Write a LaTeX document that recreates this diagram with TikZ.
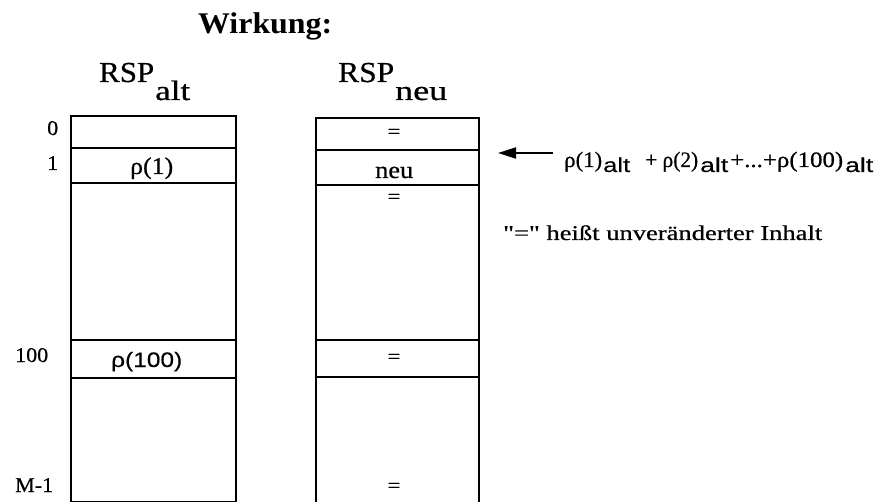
\documentclass[tikz,border=0pt]{standalone}
\usepackage{graphicx}
\usepackage{fontspec}
\setmainfont{Liberation Serif}[UprightFeatures={FakeBold=0.6}]
\newfontfamily\qfont{Liberation Serif}[Ligatures=TeXOff,FakeBold=0.6]
\newfontfamily\sfarial{Liberation Sans}[FakeBold=0.3]
\usetikzlibrary{arrows.meta}
\newcommand{\fw}[2]{\resizebox{#1}{\height}{#2}}
\newcommand{\fs}[1]{\fontsize{#1}{#1}\selectfont}
\newcommand{\dq}{{\qfont\symbol{34}}}
\begin{document}
\begin{tikzpicture}[x=1pt,y=-1pt,
  cell/.style={draw,line width=2pt,inner sep=0pt,anchor=north west},
  lbl/.style={inner sep=0pt,anchor=base west},
  ctr/.style={inner sep=0pt,anchor=base}]
\useasboundingbox (0,0) rectangle (874,502);
% title
\node[lbl] (title) at (198,34) {\fw{134pt}{\fs{30}\bfseries Wirkung:}};
\node[lbl] (rspalt) at (99,82)
  {\fw{55pt}{\fs{29}RSP}\hspace{1pt}\raisebox{-18pt}{\fw{35pt}{\fs{28}alt}}};
\node[lbl] (rspneu) at (338,82)
  {\fw{56pt}{\fs{29}RSP}\hspace{1pt}\raisebox{-18pt}{\fw{52pt}{\fs{28}neu}}};
% left column
\node[cell,minimum width=165pt,minimum height=32pt] (a0) at (70,115) {};
\node[cell,minimum width=165pt,minimum height=35pt] (a1) at (70,147) {};
\node[cell,minimum width=165pt,minimum height=157pt] (a2) at (70,182) {};
\node[cell,minimum width=165pt,minimum height=38pt] (a3) at (70,339) {};
\node[cell,minimum width=165pt,minimum height=124pt] (a4) at (70,377) {};
% right column
\node[cell,minimum width=163pt,minimum height=32pt] (b0) at (315,117) {};
\node[cell,minimum width=163pt,minimum height=35pt] (b1) at (315,149) {};
\node[cell,minimum width=163pt,minimum height=155pt] (b2) at (315,184) {};
\node[cell,minimum width=163pt,minimum height=37pt] (b3) at (315,339) {};
\node[cell,minimum width=163pt,minimum height=126pt] (b4) at (315,376) {};
% row labels
\node[lbl] (l0) at (47,135) {\fw{11pt}{\fs{21}0}};
\node[lbl] (l1) at (47,170) {\fw{11pt}{\fs{21}1}};
\node[lbl] (l100) at (15,362) {\fw{33pt}{\fs{21}100}};
\node[lbl] (lm) at (15,492) {\fw{38pt}{\fs{21}M-1}};
% cell contents
\node[lbl] (r1) at (130,174) {\fw{43pt}{\fs{24}ρ(1)}};
\node[lbl] (r100) at (111,367) {\fw{71pt}{\fs{21}\sfarial ρ(100)}};
\node[lbl] (n1) at (375,178) {\fw{38pt}{\fs{24}neu}};
\node[ctr] (e0) at (394,138) {\fw{13pt}{\fs{20}=}};
\node[ctr] (e2) at (394,203) {\fw{13pt}{\fs{20}=}};
\node[ctr] (e3) at (394,363) {\fw{13pt}{\fs{20}=}};
\node[ctr] (e4) at (394,492) {\fw{13pt}{\fs{20}=}};
% formula and arrow
\node[lbl] (form) at (564,167)
  {\fw{38pt}{\fs{22}ρ(1)}\hspace{1pt}%
   \raisebox{-5pt}{\fw{27pt}{\fs{20}\sfarial alt}}\hspace{15pt}%
   \fw{53pt}{\fs{22}+ ρ(2)}\hspace{2pt}%
   \raisebox{-5pt}{\fw{28pt}{\fs{20}\sfarial alt}}\hspace{2pt}%
   \fw{113pt}{\fs{22}+...+ρ(100)}\hspace{2pt}%
   \raisebox{-5pt}{\fw{28pt}{\fs{20}\sfarial alt}}};
\coordinate (tip) at (498,153);
\draw[line width=2pt,-{Triangle[length=18pt,width=11pt]}] (553,153) -- (tip);
\node[lbl] (note) at (503,240)
  {\fw{319pt}{\fs{21}\dq=\dq{} heißt unveränderter Inhalt}};
\end{tikzpicture}
\end{document}
